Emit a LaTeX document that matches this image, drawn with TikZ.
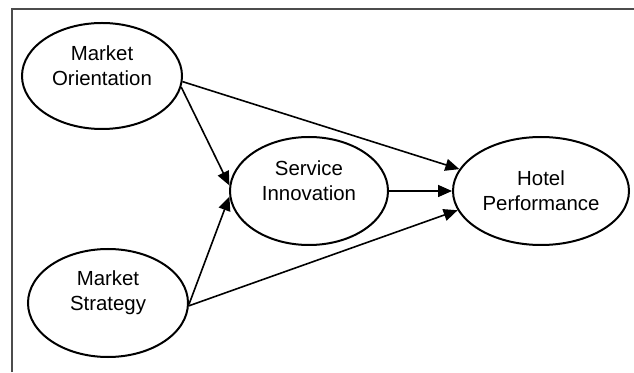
\documentclass[tikz,border=0pt]{standalone}
\usepackage{fontspec}
\setmainfont{Liberation Sans}
\usetikzlibrary{arrows.meta,shapes.geometric}
\begin{document}
\begin{tikzpicture}[x=1pt,y=1pt,
  oval/.style={ellipse,draw,line width=2pt,inner sep=0pt},
  lbl/.style={align=center,font=\fontsize{20.4}{25}\selectfont,inner sep=0pt},
  conn/.style={line width=1.6pt,-{Triangle[length=14pt,width=12pt]}}]
\useasboundingbox (0,0) rectangle (634,372);
\draw[line width=1.5pt,color=black!70] (12,0) coordinate (fb) -- (12,363) coordinate (fc) -- (634,363) coordinate (fr);
\node[oval,minimum width=160,minimum height=106] (MO) at (102,296) {};
\node[oval,minimum width=158,minimum height=108] (SI) at (309,181) {};
\node[oval,minimum width=176,minimum height=108] (HP) at (541,181) {};
\node[oval,minimum width=160,minimum height=108] (MS) at (108,69) {};
\node[lbl] (MOt) at (102,306) {Market\\Orientation};
\node[lbl] (SIt) at (309,191) {Service\\Innovation};
\node[lbl] (HPt) at (541,181) {Hotel\\Performance};
\node[lbl] (MSt) at (108,79) {Market\\Strategy};
\draw[conn] (MO.-4) -- (HP.165);
\draw[conn] (MO.-8) -- (SI.176);
\draw[conn] (SI.east) -- (HP.west);
\draw[conn] (MS.-1) -- (SI.184);
\draw[conn] (MS.-2) -- (HP.193);
\end{tikzpicture}
\end{document}
